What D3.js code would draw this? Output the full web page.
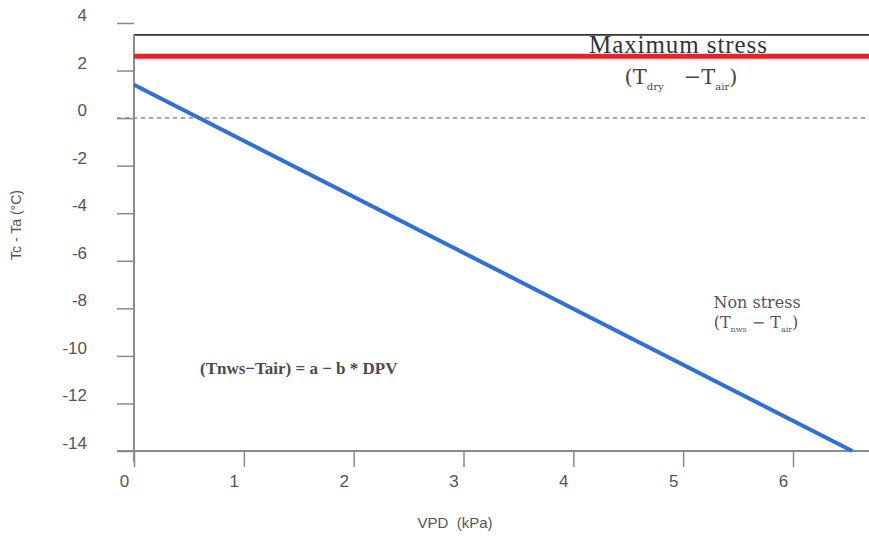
<!DOCTYPE html>
<html>
<head>
<meta charset="utf-8">
<script src="https://cdn.jsdelivr.net/npm/d3@7"></script>
<style>
  html, body { margin: 0; padding: 0; background: #fff; }
  svg { display: block; }
</style>
</head>
<body>
<svg id="chart" width="869" height="537"></svg>
<script>
// Axis ticks
const xTicks = [0, 1, 2, 3, 4, 5, 6];
const yTicks = [4, 2, 0, -2, -4, -6, -8, -10, -12, -14];

// Reference levels (°C)
const upperBound = 3.5;        // top frame of the plot
const maxStressLevel = 2.6;    // (Tdry − Tair), maximum stress baseline
const zeroLevel = 0;

// Non-water-stressed baseline: (Tnws − Tair) = a − b * VPD
const baselineVPD = [0, 6.54];
const baselineDT = [1.4, -14];

const svg = d3.select("#chart");

const x = d3.scaleLinear().domain([0, 6]).range([134, 793]);
const y = d3.scaleLinear().domain([-14, 4]).range([451, 23]);

const axisColor = "#8a8a8a";
const labelColor = "#555";
const sans = "'Liberation Sans', Arial, sans-serif";
const serif = "'Liberation Serif', 'Times New Roman', serif";
const wideSerif = "'DejaVu Serif', serif";
const fmt = d => String(d);   // plain hyphen for negatives

// Top frame line
svg.append("line")
  .attr("x1", x(0)).attr("x2", 869)
  .attr("y1", y(upperBound)).attr("y2", y(upperBound))
  .attr("stroke", "#333").attr("stroke-width", 1.6);

// Y axis
const yAxis = d3.axisLeft(y).tickValues(yTicks).tickSize(17).tickSizeOuter(0).tickFormat(fmt);
const gy = svg.append("g").attr("transform", `translate(${x(0)},0)`).call(yAxis);
gy.select(".domain").remove();
gy.selectAll(".tick line").attr("stroke", axisColor).attr("stroke-width", 1.5);
gy.selectAll(".tick text")
  .attr("x", -47).attr("dy", "-0.15em")
  .attr("fill", labelColor)
  .style("font-family", sans)
  .style("font-size", "17px");
svg.append("line")
  .attr("x1", x(0)).attr("x2", x(0))
  .attr("y1", y(upperBound)).attr("y2", y(-14) + 11)
  .attr("stroke", axisColor).attr("stroke-width", 2);

// X axis
const xAxis = d3.axisBottom(x).tickValues(xTicks).tickSize(16).tickSizeOuter(0).tickFormat(fmt);
const gx = svg.append("g").attr("transform", `translate(0,${y(-14)})`).call(xAxis);
gx.select(".domain").remove();
gx.selectAll(".tick line").attr("stroke", axisColor).attr("stroke-width", 1.5);
gx.selectAll(".tick text")
  .attr("dx", -10).attr("y", 24)
  .attr("fill", labelColor)
  .style("font-family", sans)
  .style("font-size", "17px");
svg.append("line")
  .attr("x1", 117).attr("x2", 869)
  .attr("y1", y(-14)).attr("y2", y(-14))
  .attr("stroke", axisColor).attr("stroke-width", 2);

// Zero reference (dashed)
svg.append("line")
  .attr("x1", 117).attr("x2", 869)
  .attr("y1", y(zeroLevel)).attr("y2", y(zeroLevel))
  .attr("stroke", "#8a8a8a").attr("stroke-width", 1.5)
  .attr("stroke-dasharray", "4,4");

// Maximum stress line
svg.append("line")
  .attr("x1", x(0)).attr("x2", 869)
  .attr("y1", y(maxStressLevel)).attr("y2", y(maxStressLevel))
  .attr("stroke", "#e0262a").attr("stroke-width", 5);

// Non-stress baseline
const line = d3.line().x(d => x(d[0])).y(d => y(d[1]));
svg.append("path")
  .datum(d3.zip(baselineVPD, baselineDT))
  .attr("d", line)
  .attr("fill", "none")
  .attr("stroke", "#2f6fd8")
  .attr("stroke-width", 4);

// Axis titles
svg.append("text")
  .attr("x", 455).attr("y", 528)
  .attr("text-anchor", "middle")
  .attr("fill", "#555")
  .style("font-family", sans)
  .style("font-size", "15px")
  .attr("xml:space", "preserve")
  .text("VPD  (kPa)");

svg.append("text")
  .attr("transform", "translate(21,225) rotate(-90)")
  .attr("text-anchor", "middle")
  .attr("fill", "#555")
  .style("font-family", sans)
  .style("font-size", "14px")
  .text("Tc - Ta (°C)");

// Annotations
svg.append("text")
  .attr("x", 589).attr("y", 53)
  .attr("textLength", 178)
  .attr("fill", "#333")
  .style("font-family", serif)
  .style("font-size", "25px")
  .text("Maximum stress");

// Label with subscripts: parts = [text, isSubscript]
function subLabel(parts, opts) {
  const t = svg.append("text")
    .attr("x", opts.x).attr("y", opts.y)
    .attr("text-anchor", "middle")
    .attr("fill", opts.color)
    .attr("xml:space", "preserve")
    .style("font-family", wideSerif)
    .style("font-size", opts.size + "px");
  let down = false;
  parts.forEach(([txt, sub]) => {
    const s = t.append("tspan").attr("fill", opts.color).text(txt);
    if (sub) {
      s.style("font-size", opts.subSize + "px");
      if (!down) { s.attr("dy", opts.shift); down = true; }
    } else if (down) {
      s.attr("dy", -opts.shift); down = false;
    }
  });
  return t;
}

subLabel([["(T", false], ["dry", true], ["   −T", false], ["air", true], [")", false]],
  { x: 681, y: 84, color: "#444", size: 21, subSize: 10, shift: 6 });

svg.append("text")
  .attr("x", 757).attr("y", 308)
  .attr("text-anchor", "middle")
  .attr("fill", "#555")
  .style("font-family", wideSerif)
  .style("font-size", "16px")
  .text("Non stress");

subLabel([["(T", false], ["nws", true], [" − T", false], ["air", true], [")", false]],
  { x: 756, y: 328, color: "#555", size: 16, subSize: 8, shift: 4 });

svg.append("text")
  .attr("x", 200).attr("y", 374)
  .attr("fill", "#4a4a4a")
  .style("font-family", serif)
  .style("font-size", "17px")
  .style("font-weight", "bold")
  .text("(Tnws−Tair) = a − b * DPV");
</script>
</body>
</html>
